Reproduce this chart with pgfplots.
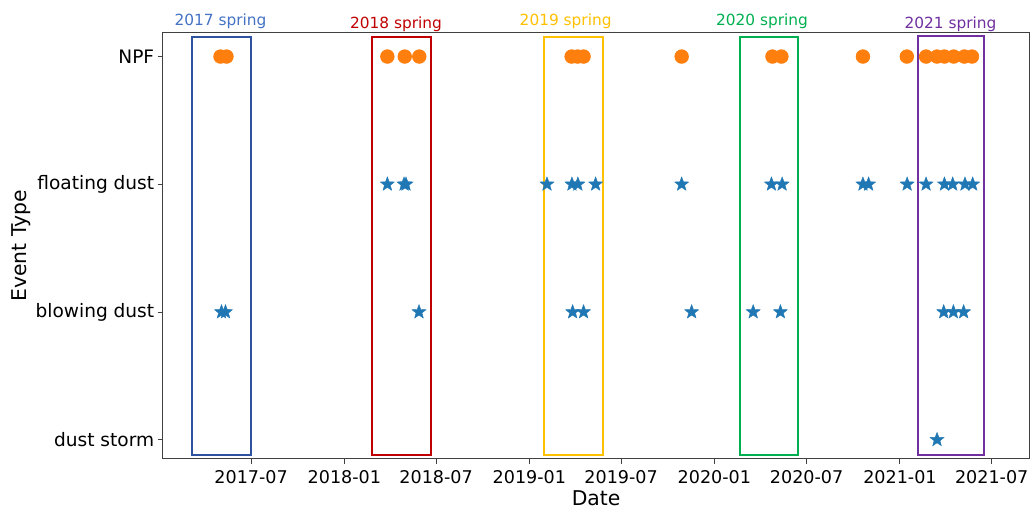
\documentclass[border=0pt]{standalone}
\usepackage{fontspec}
\setmainfont{DejaVu Sans}
\usepackage{pgfplots}
\pgfplotsset{compat=1.18}
\definecolor{cnpf}{HTML}{FF7F0E}
\definecolor{cdust}{HTML}{1F77B4}
\definecolor{t17}{HTML}{4472C4}
\definecolor{r17}{HTML}{2F52A0}
\definecolor{c18}{HTML}{C00000}
\definecolor{c19}{HTML}{FFC000}
\definecolor{c20}{HTML}{00B050}
\definecolor{c21}{HTML}{7030A0}
\pgfdeclareplotmark{fstar}{%
  \pgfpathmoveto{\pgfqpointpolar{90}{\pgfplotmarksize}}%
  \pgfpathlineto{\pgfqpointpolar{126}{0.42\pgfplotmarksize}}%
  \pgfpathlineto{\pgfqpointpolar{162}{\pgfplotmarksize}}%
  \pgfpathlineto{\pgfqpointpolar{198}{0.42\pgfplotmarksize}}%
  \pgfpathlineto{\pgfqpointpolar{234}{\pgfplotmarksize}}%
  \pgfpathlineto{\pgfqpointpolar{270}{0.42\pgfplotmarksize}}%
  \pgfpathlineto{\pgfqpointpolar{306}{\pgfplotmarksize}}%
  \pgfpathlineto{\pgfqpointpolar{342}{0.42\pgfplotmarksize}}%
  \pgfpathlineto{\pgfqpointpolar{18}{\pgfplotmarksize}}%
  \pgfpathlineto{\pgfqpointpolar{54}{0.42\pgfplotmarksize}}%
  \pgfpathclose
  \pgfusepathqfillstroke}
\begin{document}
\begin{tikzpicture}
\begin{axis}[
  scale only axis, width=434.5pt, height=213.5pt,
  xmin=6.4, xmax=1716.7, ymin=-0.15, ymax=3.185,
  axis line style={draw=black!75, line width=0.5pt},
  tick align=outside, xtick pos=bottom, ytick pos=left,
  major tick length=2.5pt, tick style={draw=black!75, line width=0.5pt},
  xtick={181,365,546,730,911,1095,1277,1461,1642},
  xticklabels={2017-07,2018-01,2018-07,2019-01,2019-07,2020-01,2020-07,2021-01,2021-07},
  ytick={0,1,2,3},
  yticklabels={dust storm,blowing dust,floating dust,NPF},
  yticklabel style={font=\fontsize{9.3}{11}\selectfont, xshift=1.8pt},
  xticklabel style={font=\fontsize{8.8}{10.5}\selectfont},
  xlabel={Date}, ylabel={Event Type},
  label style={font=\fontsize{10.2}{12}\selectfont},
  xlabel style={yshift=3.5pt},
  ylabel style={yshift=-4.5pt},
  clip=false,
]
% NPF
\addplot[only marks, mark=*, mark size=3.4pt, mark options={draw=cnpf, fill=cnpf}] coordinates {
(120.6,3) (132.4,3) (449.8,3) (484.1,3) (512.8,3) (813.3,3) (825.1,3) (836.9,3)
(1030.4,3) (1209.5,3) (1227.2,3) (1388,3) (1474.6,3) (1512.6,3) (1534.2,3)
(1548.8,3) (1567.1,3) (1588.1,3) (1603.1,3)};
% floating dust
\addplot[only marks, mark=fstar, mark size=3.7pt, mark options={draw=cdust, fill=cdust, line width=0.2pt}] coordinates {
(449.8,2) (482.7,2) (486.6,2) (764.7,2) (813.9,2) (825.7,2) (860.6,2) (1030.4,2)
(1207.5,2) (1228.6,2) (1388,2) (1399.2,2) (1475.2,2) (1512.6,2) (1548.8,2)
(1565.1,2) (1589.3,2) (1604.5,2)};
% blowing dust
\addplot[only marks, mark=fstar, mark size=3.7pt, mark options={draw=cdust, fill=cdust, line width=0.2pt}] coordinates {
(122.6,1) (130.4,1) (512.2,1) (815.3,1) (836.9,1) (1050.1,1) (1171.5,1) (1225.2,1)
(1547.4,1) (1566.5,1) (1586.7,1)};
% dust storm
\addplot[only marks, mark=fstar, mark size=3.7pt, mark options={draw=cdust, fill=cdust, line width=0.2pt}] coordinates {
(1534.2,0)};
% spring boxes
\addplot[draw=r17, line width=1pt, mark=none] coordinates {(64.1,-0.12) (181,-0.12) (181,3.15) (64.1,3.15)} -- cycle;
\addplot[draw=c18, line width=1pt, mark=none] coordinates {(419,-0.12) (536.4,-0.12) (536.4,3.15) (419,3.15)} -- cycle;
\addplot[draw=c19, line width=1pt, mark=none] coordinates {(758.2,-0.12) (874.3,-0.12) (874.3,3.15) (758.2,3.15)} -- cycle;
\addplot[draw=c20, line width=1pt, mark=none] coordinates {(1144.5,-0.12) (1260.1,-0.12) (1260.1,3.15) (1144.5,3.15)} -- cycle;
\addplot[draw=c21, line width=1pt, mark=none] coordinates {(1497.6,-0.12) (1626.1,-0.12) (1626.1,3.16) (1497.6,3.16)} -- cycle;
\node[text=t17, font=\fontsize{7.7}{9}\selectfont] at (axis cs:120.6,3.275) {2017 spring};
\node[text=c18, font=\fontsize{7.7}{9}\selectfont] at (axis cs:466.9,3.255) {2018 spring};
\node[text=c19, font=\fontsize{7.7}{9}\selectfont] at (axis cs:801.5,3.275) {2019 spring};
\node[text=c20, font=\fontsize{7.7}{9}\selectfont] at (axis cs:1188.8,3.275) {2020 spring};
\node[text=c21, font=\fontsize{7.7}{9}\selectfont] at (axis cs:1560.8,3.255) {2021 spring};
\end{axis}
\path (current axis.south west) ++(-81.5pt,-25.5pt) coordinate (bbA);
\path (current axis.north east) ++(1.5pt,16.5pt) coordinate (bbB);
\path (bbA) rectangle (bbB);
\end{tikzpicture}
\end{document}
